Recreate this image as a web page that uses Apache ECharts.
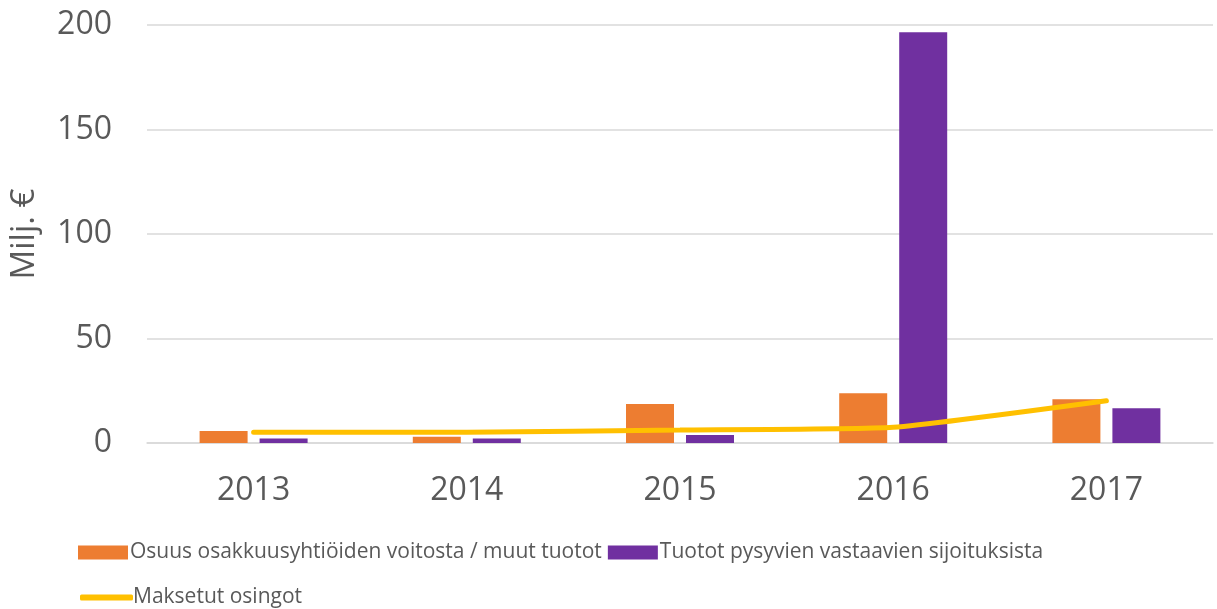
<!DOCTYPE html>
<html>
<head>
<meta charset="utf-8">
<script src="https://cdn.jsdelivr.net/npm/echarts@6/dist/echarts.min.js"></script>
<style>
	html, body { margin: 0; padding: 0; background: #fff; }
	#chart { width: 1217px; height: 609px; }
</style>
</head>
<body>
<div id="chart"></div>
<script>
// data (Milj. €)
var years = ['2013', '2014', '2015', '2016', '2017'];
var osuusVoitosta = [5.7, 3.0, 18.7, 23.8, 20.9];
var tuototSijoituksista = [2.2, 2.2, 3.8, 196.5, 16.6];
var maksetutOsingot = [5.1, 5.2, 6.2, 7.5, 20.2];
var yTicks = [0, 50, 100, 150, 200];

var names = [
	'Osuus osakkuusyhtiöiden voitosta / muut tuotot',
	'Tuotot pysyvien vastaavien sijoituksista',
	'Maksetut osingot'
];

var txt = '#595959';
var font = '"Open Sans", "Noto Sans", sans-serif';

var ec = echarts.init(document.getElementById('chart'));
var option = {
	animation: false,
	textStyle: { fontFamily: font },
	grid: { left: 146, right: 4, top: 25, bottom: 166, containLabel: false },
	legend: [
		{
			data: [names[0], names[1]],
			left: 73, top: 537,
			itemWidth: 50, itemHeight: 14, itemGap: 6,
			icon: 'rect',
			textStyle: { color: txt, fontSize: 21, fontFamily: font, padding: [0, 0, 0, -3] }
		},
		{
			data: [names[2]],
			left: 75, top: 582,
			itemWidth: 53, itemHeight: 6,
			icon: 'roundRect',
			textStyle: { color: txt, fontSize: 21, fontFamily: font, padding: [0, 0, 0, -5] }
		}
	],
	xAxis: {
		type: 'category',
		data: years,
		axisLine: { lineStyle: { color: '#D9D9D9', width: 1.5 } },
		axisTick: { show: false },
		axisLabel: { color: txt, fontSize: 32, margin: 32, fontFamily: font }
	},
	yAxis: {
		type: 'value',
		min: yTicks[0],
		max: yTicks[yTicks.length - 1],
		interval: 50,
		name: 'Milj. €',
		nameLocation: 'middle',
		nameRotate: 90,
		nameGap: 106,
		nameTextStyle: { color: txt, fontSize: 33, fontFamily: font },
		axisLine: { show: false },
		axisTick: { show: false },
		axisLabel: { color: txt, fontSize: 32, margin: 35, fontFamily: font },
		splitLine: { lineStyle: { color: '#D9D9D9', width: 1.5 } }
	},
	series: [
		{
			name: names[0],
			type: 'bar',
			data: osuusVoitosta,
			barWidth: 48,
			barGap: '25%',
			itemStyle: { color: '#ED7D31' }
		},
		{
			name: names[1],
			type: 'bar',
			data: tuototSijoituksista,
			barWidth: 48,
			barGap: '25%',
			itemStyle: { color: '#7030A0' }
		},
		{
			name: names[2],
			type: 'line',
			data: maksetutOsingot,
			symbol: 'none',
			smooth: 0.15,
			itemStyle: { color: '#FFC000' },
			lineStyle: { color: '#FFC000', width: 5, cap: 'round' },
			z: 5
		}
	]
};
ec.setOption(option);
</script>
</body>
</html>
